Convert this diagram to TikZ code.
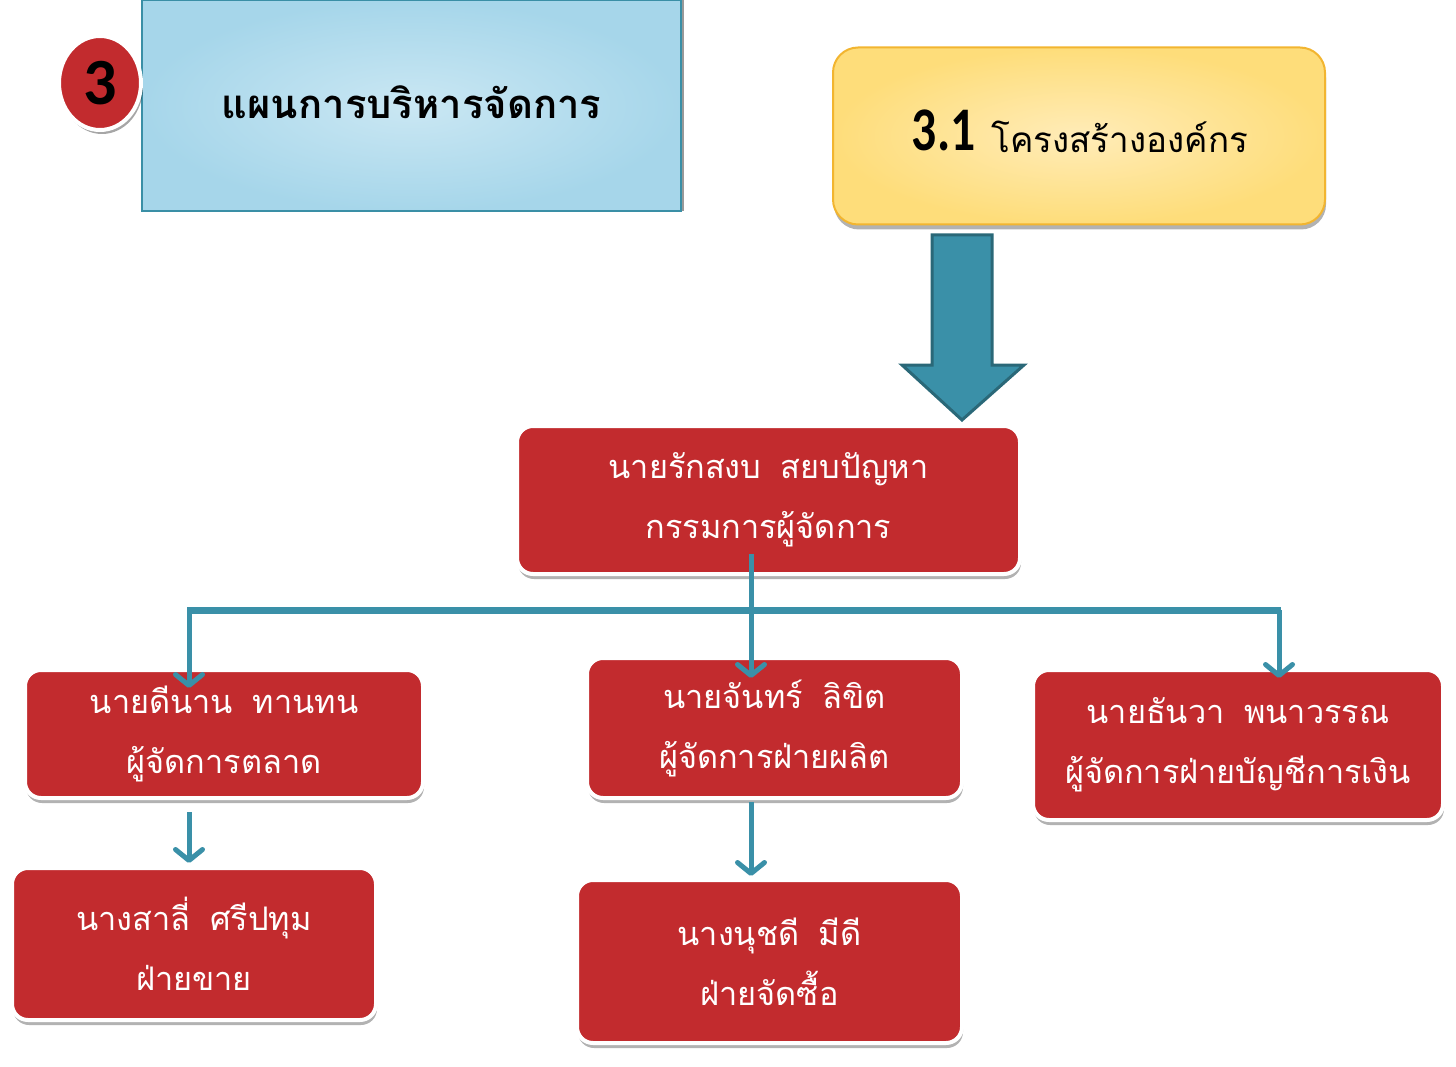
\documentclass[tikz,border=0pt]{standalone}
\usepackage{fontspec}
\newfontfamily\thai[Script=Thai]{Loma}
\newfontfamily\numfont{Carlito}
\usetikzlibrary{shadows,arrows.meta,shapes.geometric}
\definecolor{boxred}{HTML}{C22B2E}
\definecolor{ctl}{HTML}{3A90A8}
\definecolor{ctldark}{HTML}{2A6878}
\definecolor{hdrin}{HTML}{CAE7F3}
\definecolor{hdrout}{HTML}{A6D6EA}
\definecolor{hdrline}{HTML}{3A8FA6}
\definecolor{ylin}{HTML}{FFECB8}
\definecolor{ylout}{HTML}{FEDD7A}
\definecolor{ylline}{HTML}{F2B530}
\tikzset{
  person/.style={rectangle, rounded corners=16pt, fill=boxred, draw=white, line width=4pt,
    text=white, font=\thai\fontsize{32.5}{60}\selectfont, align=center,
    drop shadow={shadow xshift=1pt, shadow yshift=-5pt, opacity=0.3, fill=black}},
  bus/.style={draw=ctl, line width=7pt},
  drop/.style={draw=ctl, line width=5pt, -{Straight Barb[round, length=11pt, width=27pt]}},
}
\begin{document}
\begin{tikzpicture}[x=1pt,y=-1pt]
\useasboundingbox (0,0) rectangle (1456,1067);
% header
\node[rectangle, minimum width=539pt, minimum height=211pt, inner color=hdrin, outer color=hdrout,
  draw=hdrline, line width=2pt, drop shadow={shadow xshift=3pt, shadow yshift=0pt, opacity=0.4, fill=black}] (title) at (411.5,106) {};
\node[font=\thai\bfseries\fontsize{40}{40}\selectfont] (titletext) at (411.5,102) {แผนการบริหารจัดการ};
\node[ellipse, minimum width=82pt, minimum height=94pt, fill=boxred, draw=white, line width=4pt,
  drop shadow={shadow xshift=2pt, shadow yshift=-4pt, opacity=0.35, fill=black},
  font=\numfont\bfseries\fontsize{66}{66}\selectfont, inner sep=0pt] (num) at (100,83) {3};
% section box
\node[rectangle, rounded corners=25pt, minimum width=492pt, minimum height=177pt,
  inner color=ylin, outer color=ylout, draw=ylline, line width=2pt,
  drop shadow={shadow xshift=1pt, shadow yshift=-5pt, opacity=0.3, fill=black}] (sec) at (1079,136) {};
\node (sectext) at (1080,131)
  {\raisebox{2pt}{\numfont\bfseries\fontsize{62}{62}\selectfont\scalebox{0.8}[1]{3.1}}\hspace{16pt}{\thai\fontsize{35}{40}\selectfont โครงสร้างองค์กร}};
% big arrow
\coordinate (atop) at (962,235);
\coordinate (atip) at (962,420);
\filldraw[fill=ctl, draw=ctldark, line width=3pt, line join=miter]
  ([xshift=-30pt]atop) -- ([xshift=30pt]atop) -- ([xshift=30pt]atop |- 0,365) -- ([xshift=62pt]atop |- 0,365)
  -- (atip) -- ([xshift=-60pt]atop |- 0,365) -- ([xshift=-30pt]atop |- 0,365) -- cycle;
% people
\node[person, minimum width=503pt, minimum height=148pt] (boss) at (768.5,500) {นายรักสงบ\hspace{0.6em}สยบปัญหา\\กรรมการผู้จัดการ};
\node[person, minimum width=398pt, minimum height=128pt] (mgrL) at (224,734) {นายดีนาน\hspace{0.6em}ทานทน\\ผู้จัดการตลาด};
\node[person, minimum width=375pt, minimum height=140pt] (mgrM) at (774.5,728) {นายจันทร์\hspace{0.6em}ลิขิต\\ผู้จัดการฝ่ายผลิต};
\node[person, minimum width=410pt, minimum height=150pt] (mgrR) at (1238,745) {นายธันวา\hspace{0.6em}พนาวรรณ\\ผู้จัดการฝ่ายบัญชีการเงิน};
\node[person, minimum width=364pt, minimum height=152pt] (subL) at (194,944) {นางสาลี่\hspace{0.6em}ศรีปทุม\\ฝ่ายขาย};
\node[person, minimum width=385pt, minimum height=163pt] (subM) at (769.5,961.5) {นางนุชดี\hspace{0.6em}มีดี\\ฝ่ายจัดซื้อ};
% connectors
\coordinate (busL) at (189,610);
\coordinate (busM) at (751,610);
\coordinate (busR) at (1279,610);
\draw[bus] ([xshift=-2pt]busL) -- ([xshift=2pt]busR);
\draw[drop] ([yshift=22pt]boss.south -| busM) -- ([yshift=-22pt]mgrM.north -| busM);
\draw[drop] (busL) -- ([yshift=-20pt]mgrL.north -| busL);
\draw[drop] (busR) -- ([yshift=-10pt]mgrR.north -| busR);
\draw[drop] ([yshift=-12pt]mgrL.south -| busL) -- ([yshift=3pt]subL.north -| busL);
\draw[drop] ([yshift=-2pt]mgrM.south -| busM) -- ([yshift=2pt]subM.north -| busM);
\end{tikzpicture}
\end{document}
